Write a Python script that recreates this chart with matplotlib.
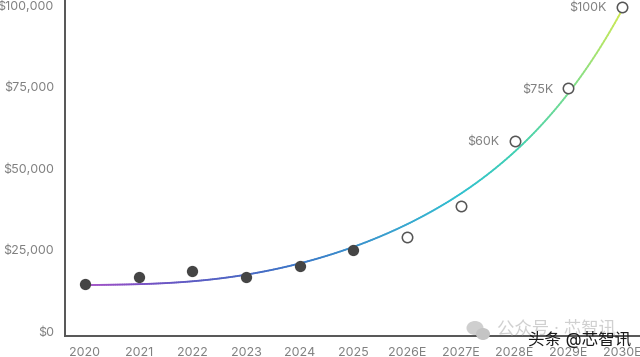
import matplotlib
matplotlib.use('Agg')
import matplotlib.pyplot as plt
import matplotlib.colors as mcolors
from matplotlib.collections import LineCollection
from matplotlib.patches import Ellipse
import numpy as np

plt.rcParams['font.family'] = ['Inter', 'Noto Sans CJK SC', 'DejaVu Sans']

# data
years = ['2020', '2021', '2022', '2023', '2024', '2025', '2026E', '2027E', '2028E', '2029E', '2030E']
actual = [14400, 16600, 18400, 16700, 19900, 24800]
forecast = [28800, 38300, 58300, 74400, 99400]
trend = [14100, 14300, 15200, 17500, 20600, 25900, 32500, 42300, 55200, 72700, 98500]
y_ticks = [0, 25000, 50000, 75000, 100000]
callouts = ['$60K', '$75K', '$100K']

grey = '#808080'
dark = '#555555'

fig = plt.figure(figsize=(6.4, 3.57), dpi=100)
ax = fig.add_axes([65 / 640, 1 - 335.5 / 357, 575 / 640, 335.5 / 357])
ax.set_xlim(-0.372, 10.335)
ax.set_ylim(-1380, 101530)

# gradient trend line, smoothed through the read values
x_idx = np.arange(len(years))
coef = np.polyfit(x_idx, trend, 5)
xs = np.linspace(0, 10, 300)
ys = np.polyval(coef, xs)
pts = np.column_stack([xs, ys]).reshape(-1, 1, 2)
segs = np.concatenate([pts[:-1], pts[1:]], axis=1)
cmap = mcolors.LinearSegmentedColormap.from_list(
    'trend', ['#a855c8', '#7a50c4', '#5c5cc4', '#4a68c4', '#3a78c8', '#3a90cc',
              '#38a8d0', '#30c0d0', '#40d0b4', '#74dc92', '#cbe955'])
lc = LineCollection(segs, cmap=cmap, linewidth=1.3, zorder=2, clip_on=False, capstyle='round')
lc.set_array(np.linspace(0, 1, len(segs)))
ax.add_collection(lc)

# dots
n_act = len(actual)
ax.scatter(x_idx[:n_act], actual, s=66, color='#454545', zorder=3, clip_on=False, linewidths=0)
ax.scatter(x_idx[n_act:], forecast, s=56, facecolor='white', edgecolor='#555555',
           linewidths=1.1, zorder=3, clip_on=False)

# labels left of the last three points
for i, lab in zip(x_idx[-3:], callouts):
    val = forecast[list(x_idx[n_act:]).index(i)]
    ax.annotate(lab, (i, val), xytext=(-11, -1), textcoords='offset points',
                ha='right', va='center', fontsize=9, color=grey)

ax.set_xticks(x_idx)
ax.set_xticklabels(years)
ax.set_yticks(y_ticks)
ax.set_yticklabels([f'${v:,}' for v in y_ticks])
ax.tick_params(length=0, labelsize=9, labelcolor=grey)
ax.tick_params(axis='x', pad=8)
ax.tick_params(axis='y', pad=8)

for s in ['top', 'right']:
    ax.spines[s].set_visible(False)
for s in ['left', 'bottom']:
    ax.spines[s].set_color(dark)
    ax.spines[s].set_linewidth(1.4)

# watermarks
for cx, cy, w, h, c in [(475 / 640, 1 - 328 / 357, 17 / 640, 14 / 357, '#cfcfcf'),
                        (483 / 640, 1 - 334 / 357, 14 / 640, 12 / 357, '#c4c4c4')]:
    fig.add_artist(Ellipse((cx, cy), w, h, transform=fig.transFigure, color=c, lw=0))
fig.text(497 / 640, 1 - 329 / 357, '公众号 · 芯智讯', fontsize=12.5, color='#d0d0d0',
         ha='left', va='center')
fig.text(528 / 640, 1 - 339 / 357, '头条 @芯智讯', fontsize=11.9, color='#1a1a1a',
         ha='left', va='center')

plt.savefig('out.png', dpi=100)
